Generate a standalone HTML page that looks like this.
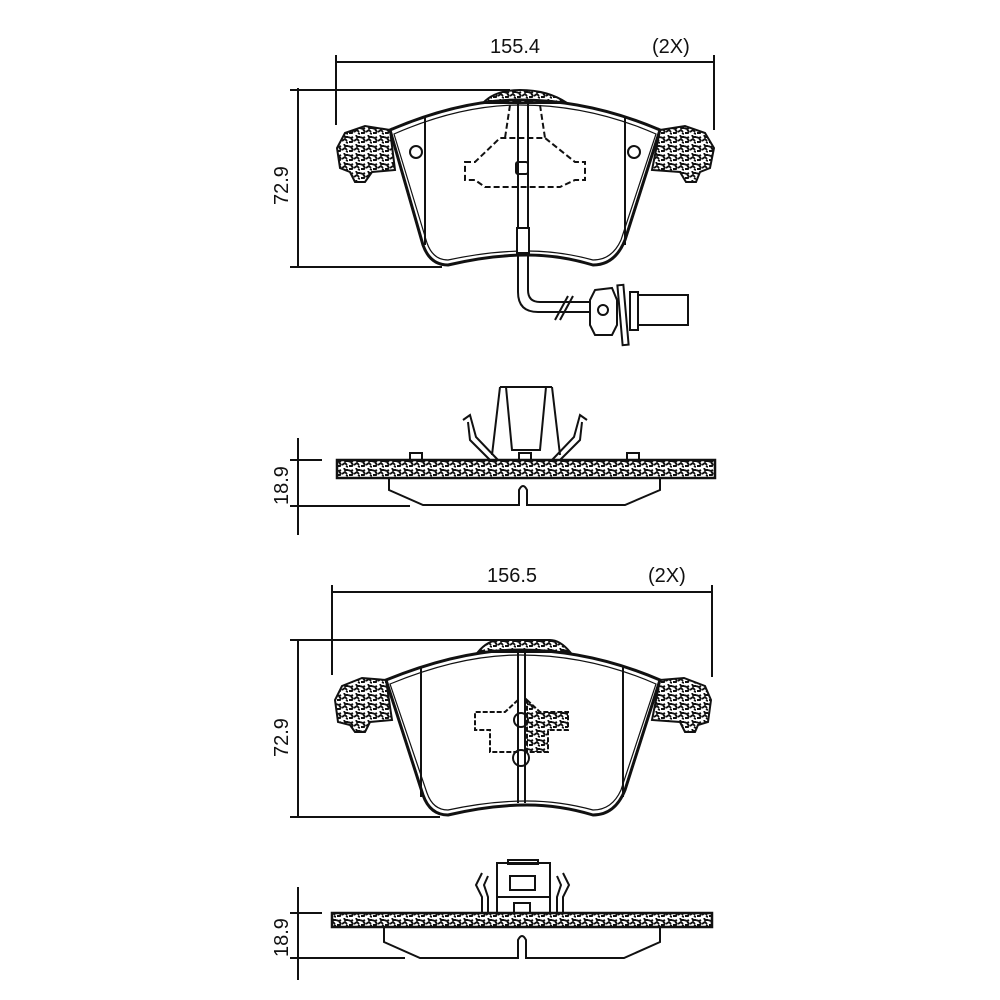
<!DOCTYPE html>
<html><head><meta charset="utf-8"><style>
html,body{margin:0;padding:0;background:#fff;width:1000px;height:1000px;overflow:hidden}
text{font-family:"Liberation Sans",sans-serif;font-size:20px;fill:#111}
</style></head><body>
<svg width="1000" height="1000" viewBox="0 0 1000 1000" xmlns="http://www.w3.org/2000/svg">
<defs>
<pattern id="h" width="12" height="9" patternUnits="userSpaceOnUse">
<rect width="12" height="9" fill="#fff"/>
<path d="M0 2 l3 1 l2 -1 M6 6 l3 -2 l2 2 M1 7 l3 0 l1 -2 M8 0 l1 2 l3 0 M3 4 l2 1 M10 7 l2 1" stroke="#111" stroke-width="1.9" fill="none"/>
</pattern>
</defs>
<g stroke="#111" fill="none" stroke-width="2">
<!-- ===== TOP PAD ===== -->
<line x1="336" y1="62" x2="714" y2="62"/>
<line x1="336" y1="55" x2="336" y2="125"/>
<line x1="714" y1="55" x2="714" y2="130"/>
<line x1="298" y1="88" x2="298" y2="268"/>
<line x1="290" y1="90" x2="510" y2="90"/>
<line x1="290" y1="267" x2="442" y2="267"/>
<path d="M390 130 L365 126 L345 133 L337 148 L340 168 L350 172 L355 182 L365 182 L372 172 L395 170 Z" fill="url(#h)"/>
<path d="M660 130 L685 126 L705 133 L714 148 L710 168 L700 172 L696 182 L686 182 L680 172 L652 170 Z" fill="url(#h)"/>
<path d="M483 103 Q495 90 520 90 Q548 90 567 103 Z" fill="url(#h)"/>
<path d="M390 130 Q460 100 520 100 Q590 100 660 130 L625 240 Q615 265 593 265 Q560 255 527 255 Q490 255 448 265 Q430 265 423 245 Z" stroke-width="3"/>
<path d="M394 134 Q460 105 520 105 Q590 105 656 134 L621 240 Q612 260 593 260 Q560 251 527 251 Q490 251 448 260 Q433 260 427 243 Z" stroke-width="1.2"/>
<line x1="425" y1="117" x2="425" y2="245"/>
<line x1="625" y1="117" x2="625" y2="245"/>
<circle cx="416" cy="152" r="6"/>
<circle cx="634" cy="152" r="6"/>
<path d="M465 162 L475 162 L500 138 L545 138 L575 162 L585 162 L585 180 L575 180 L560 187 L485 187 L475 180 L465 180 Z M510 105 L505 138 M540 105 L545 138" stroke-dasharray="6 3"/>
<rect x="516" y="162" width="12" height="12" rx="2"/>
<path d="M518 100 L518 292 Q518 312 538 312 L590 312"/>
<path d="M528 100 L528 290 Q528 302 540 302 L590 302"/>
<rect x="517" y="228" width="12" height="25" fill="#fff"/>
<line x1="555" y1="320" x2="568" y2="296"/><line x1="560" y1="320" x2="573" y2="296"/>
<path d="M595 290 L612 288 L617 300 L617 325 L612 335 L595 335 L590 325 L590 300 Z"/>
<circle cx="603" cy="310" r="5"/>
<rect x="620" y="285" width="6" height="60" transform="rotate(-5 623 315)"/>
<rect x="630" y="292" width="8" height="38"/>
<rect x="638" y="295" width="50" height="30"/>
<text x="490" y="53" stroke="none">155.4</text>
<text x="652" y="53" stroke="none">(2X)</text>
<text x="0" y="0" stroke="none" transform="translate(288 205) rotate(-90)">72.9</text>

<line x1="298" y1="438" x2="298" y2="535"/>
<line x1="290" y1="460" x2="322" y2="460"/>
<line x1="290" y1="506" x2="410" y2="506"/>
<rect x="337" y="460" width="378" height="18" fill="url(#h)" stroke-width="2.5"/>
<path d="M389 478 L389 490 L423 505 L519 505 L519 490 Q523 482 527 490 L527 505 L625 505 L660 490 L660 478"/>
<rect x="410" y="453" width="12" height="7"/><rect x="627" y="453" width="12" height="7"/><rect x="519" y="453" width="12" height="7"/>
<path d="M506 387 L546 387 L540 450 L512 450 Z"/>
<path d="M500 387 L492 455 M552 387 L560 455 M506 387 L500 387 M546 387 L552 387"/>
<path d="M463 420 L470 415 L476 437 L498 460 M468 422 L470 440 L490 460"/>
<path d="M587 420 L580 415 L574 437 L552 460 M582 422 L580 440 L560 460"/>
<text x="0" y="0" stroke="none" transform="translate(288 505) rotate(-90)">18.9</text>

<!-- ===== BOTTOM PAD ===== -->
<line x1="332" y1="592" x2="712" y2="592"/>
<line x1="332" y1="585" x2="332" y2="675"/>
<line x1="712" y1="585" x2="712" y2="677"/>
<line x1="298" y1="640" x2="298" y2="818"/>
<line x1="290" y1="640" x2="500" y2="640"/>
<line x1="290" y1="817" x2="440" y2="817"/>
<path d="M386 680 L362 678 L342 686 L335 700 L338 722 L350 725 L355 732 L365 732 L370 722 L392 720 Z" fill="url(#h)"/>
<path d="M660 680 L684 678 L705 686 L711 700 L708 722 L698 725 L695 732 L685 732 L680 722 L652 720 Z" fill="url(#h)"/>
<path d="M478 652 Q488 640 500 640 L550 640 Q560 640 570 652 Z" fill="url(#h)"/>
<path d="M386 680 Q460 650 520 650 Q590 650 660 680 L625 790 Q615 815 593 815 Q560 805 527 805 Q490 805 448 815 Q430 815 423 795 Z" stroke-width="3"/>
<path d="M390 684 Q460 655 520 655 Q590 655 656 684 L621 790 Q612 810 593 810 Q560 801 527 801 Q490 801 448 810 Q433 810 427 793 Z" stroke-width="1.2"/>
<line x1="421" y1="667" x2="421" y2="797"/>
<line x1="623" y1="667" x2="623" y2="797"/>
<line x1="518" y1="650" x2="518" y2="803"/>
<line x1="525" y1="650" x2="525" y2="803"/>
<path d="M527 700 L540 712 L568 712 L568 730 L548 730 L548 752 L527 752 Z" fill="url(#h)" stroke-dasharray="5 2"/>
<path d="M518 700 L505 712 L475 712 L475 730 L490 730 L490 752 L518 752" stroke-dasharray="5 2"/>
<circle cx="521" cy="720" r="7"/>
<circle cx="521" cy="758" r="8"/>
<text x="487" y="582" stroke="none">156.5</text>
<text x="648" y="582" stroke="none">(2X)</text>
<text x="0" y="0" stroke="none" transform="translate(288 757) rotate(-90)">72.9</text>

<line x1="298" y1="887" x2="298" y2="980"/>
<line x1="290" y1="913" x2="322" y2="913"/>
<line x1="290" y1="958" x2="405" y2="958"/>
<rect x="332" y="913" width="380" height="14" fill="url(#h)" stroke-width="2.5"/>
<path d="M384 927 L384 942 L420 958 L518 958 L518 940 Q522 932 526 940 L526 958 L624 958 L660 942 L660 927"/>
<rect x="497" y="863" width="53" height="50"/>
<rect x="508" y="860" width="30" height="4"/>
<rect x="510" y="876" width="25" height="14"/>
<line x1="497" y1="897" x2="550" y2="897"/>
<rect x="514" y="903" width="16" height="10"/>
<path d="M482 873 L476 885 L482 897 L482 913 M488 876 L484 885 L488 897 L488 913"/>
<path d="M563 873 L569 885 L563 897 L563 913 M557 876 L561 885 L557 897 L557 913"/>
<text x="0" y="0" stroke="none" transform="translate(288 957) rotate(-90)">18.9</text>
</g>
</svg>
</body></html>
